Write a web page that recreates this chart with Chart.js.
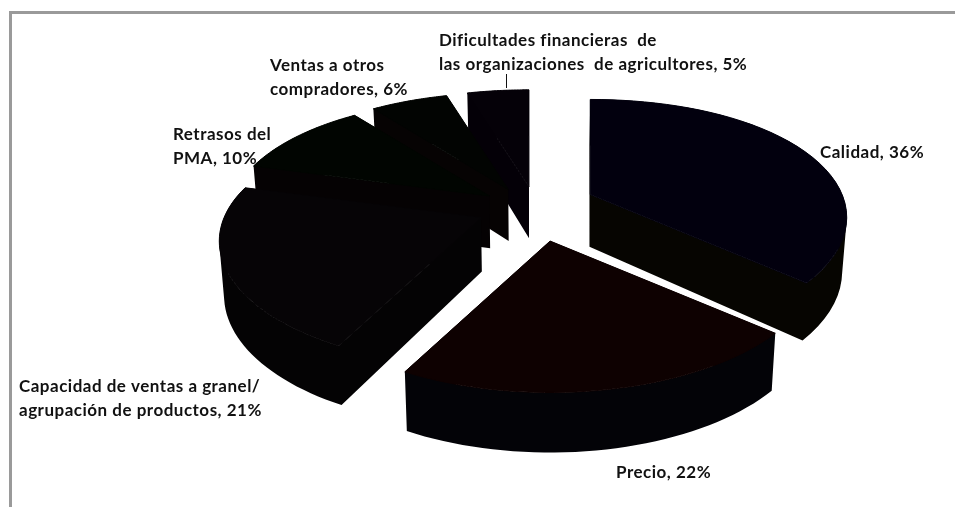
<!DOCTYPE html>
<html>
<head>
<meta charset="utf-8">
<script src="https://cdn.jsdelivr.net/npm/chart.js@4"></script>
<style>
  html, body { margin: 0; padding: 0; background: #fff; overflow: hidden; }
  #frame { position: absolute; left: 9px; top: 11px; width: 946px; height: 496px;
           border-left: 3px solid #9a9a9a; border-top: 3px solid #9a9a9a; }
  canvas { position: absolute; left: 0; top: 0; }
</style>
</head>
<body>
<div id="frame"></div>
<canvas id="pieChart" width="955" height="507"></canvas>
<script>
const categories = [
  'Calidad',
  'Precio',
  'Capacidad de ventas a granel/\nagrupación de productos',
  'Retrasos del\nPMA',
  'Ventas a otros\ncompradores',
  'Dificultades financieras  de\nlas organizaciones  de agricultores'
]
const values = [36, 22, 21, 10, 6, 5]

const topColors = ['#02000e', '#0e0101', '#060406', '#010501', '#020402', '#050108']
const sideColors = ['#060501', '#030307', '#040304', '#050203', '#060303', '#040007']

// x of the first letter and y of the first line for each label
const labelX = [820, 616, 19, 173, 270, 439]
const labelY = [153, 473, 387, 135, 66, 41]

// back to front
const drawOrder = [5, 4, 3, 0, 2, 1]

const view = { x: 537, y: 207, squash: 0.495, explode: 0.23 }

// small per slice corrections, the picture is not a perfect projection
const nudgeX = [4, 0, 3.5, -3, -6, -1]
const nudgeY = [-1, 0, -2, 3, 3, 2]
const rimScale = [0.98, 1.02, 1, 1, 1, 1]

// rim size changes with the angle, the back of the pie is further away
const rimSize = v => 257 + 52 * v - 9 * v * v

const slicePoints = (el, i) => {
  const a0 = el.startAngle + Math.PI / 2
  const a1 = el.endAngle + Math.PI / 2
  const mid = (a0 + a1) / 2
  const vMid = -Math.cos(mid)
  const size = (262 + 54.5 * vMid - 11.5 * vMid * vMid) * view.explode
  const apex = {
    x: view.x + size * Math.sin(mid) + nudgeX[i],
    y: view.y - size * Math.cos(mid) * view.squash + nudgeY[i]
  }
  const rim = []
  const steps = 40
  for (let k = 0; k <= steps; k++) {
    const a = a0 + (a1 - a0) * k / steps
    const u = Math.sin(a)
    const v = -Math.cos(a)
    const r = rimSize(v) * rimScale[i]
    rim.push({ x: apex.x + r * u, y: apex.y + r * v * view.squash, v })
  }
  return { apex: { ...apex, v: vMid * view.explode }, rim }
}

// bottom face sits lower and a little closer to the middle
const lower = p => ({
  x: view.x + (p.x - view.x) * 0.985,
  y: p.y + 53 + 7 * p.v
})

// wall between two top points, every wall gets the same winding
const wallQuad = (p, q) => {
  const pts = [p, q, lower(q), lower(p)]
  let area = 0
  pts.forEach((a, k) => {
    const b = pts[(k + 1) % 4]
    area += a.x * b.y - b.x * a.y
  })
  return area < 0 ? pts.reverse() : pts
}

// all polygons go in one path, so no seams show between them
const tracePolygons = (ctx, polygons) => {
  ctx.beginPath()
  polygons.forEach(pts => {
    pts.forEach((p, i) => i ? ctx.lineTo(p.x, p.y) : ctx.moveTo(p.x, p.y))
    ctx.closePath()
  })
}

const pie3d = {
  id: 'pie3d',
  beforeDatasetDraw(chart) {
    const ctx = chart.ctx
    const arcs = chart.getDatasetMeta(0).data
    drawOrder.forEach(i => {
      const { apex, rim } = slicePoints(arcs[i], i)
      const walls = [wallQuad(apex, rim[0]), wallQuad(apex, rim[rim.length - 1])]
      for (let k = 0; k < rim.length - 1; k++) walls.push(wallQuad(rim[k], rim[k + 1]))
      tracePolygons(ctx, walls)
      ctx.fillStyle = sideColors[i]
      ctx.fill()
      tracePolygons(ctx, [[apex, ...rim]])
      ctx.fillStyle = topColors[i]
      ctx.strokeStyle = topColors[i]
      ctx.lineWidth = 1
      ctx.fill()
      ctx.stroke()
    })
    return false
  },
  afterDraw(chart) {
    const ctx = chart.ctx
    ctx.save()
    ctx.font = 'bold 17px Lato'
    ctx.letterSpacing = '0.5px'
    ctx.fillStyle = '#111'
    ctx.textBaseline = 'middle'
    categories.forEach((name, i) => {
      const lines = `${name}, ${values[i]}%`.split('\n')
      lines.forEach((line, k) => ctx.fillText(line, labelX[i], labelY[i] + k * 24))
    })
    // leader line of the last label
    ctx.strokeStyle = '#111'
    ctx.lineWidth = 1
    ctx.beginPath()
    ctx.moveTo(506.5, 74)
    ctx.lineTo(506.5, 88)
    ctx.stroke()
    ctx.restore()
  }
}

new Chart('pieChart', {
  type: 'pie',
  data: {
    labels: categories,
    datasets: [{ data: values, backgroundColor: topColors, borderWidth: 0 }]
  },
  options: {
    responsive: false,
    animation: false,
    plugins: {
      legend: { display: false },
      tooltip: { enabled: false }
    }
  },
  plugins: [pie3d]
})
</script>
</body>
</html>
